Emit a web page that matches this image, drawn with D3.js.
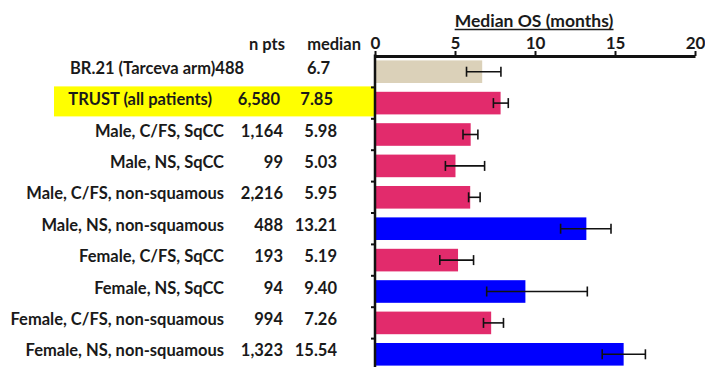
<!DOCTYPE html>
<html>
<head>
<meta charset="utf-8">
<script src="https://cdn.jsdelivr.net/npm/d3@7"></script>
<style>
  html, body { margin: 0; padding: 0; background: #fff; }
  svg { display: block; }
  text { font-family: Lato, "Open Sans", sans-serif; font-weight: bold; fill: #1a1a1a; }
</style>
</head>
<body>
<div id="chart"></div>
<script>
// ---- data ----
const categories = [
  "BR.21 (Tarceva arm)",
  "TRUST (all patients)",
  "Male, C/FS, SqCC",
  "Male, NS, SqCC",
  "Male, C/FS, non-squamous",
  "Male, NS, non-squamous",
  "Female, C/FS, SqCC",
  "Female, NS, SqCC",
  "Female, C/FS, non-squamous",
  "Female, NS, non-squamous"
];
const nPts = ["488", "6,580", "1,164", "99", "2,216", "488", "193", "94", "994", "1,323"];
const medianLabels = ["6.7", "7.85", "5.98", "5.03", "5.95", "13.21", "5.19", "9.40", "7.26", "15.54"];
const medianOS = [6.7, 7.85, 5.98, 5.03, 5.95, 13.21, 5.19, 9.40, 7.26, 15.54];
const ciLow  = [5.72, 7.4, 5.5, 4.4, 5.85, 11.6, 4.05, 6.98, 6.78, 14.2];
const ciHigh = [7.87, 8.33, 6.43, 6.85, 6.57, 14.75, 6.16, 13.27, 8.03, 16.9];
const group = ["reference", "other", "other", "other", "other", "longer", "other", "longer", "other", "longer"];
const xTicks = [0, 5, 10, 15, 20];
const title = "Median OS (months)";
const headers = ["n pts", "median"];

// ---- chart ----
const W = 705, H = 367;
const colors = { reference: "#dbd1b9", other: "#e22b6c", longer: "#0000ff" };

const svg = d3.select("#chart").append("svg").attr("width", W).attr("height", H);

const x = d3.scaleLinear().domain([0, 20]).range([375, 695]);
const y = d3.scaleBand().domain(categories).range([56, 370]).paddingInner(0.28).paddingOuter(0.14);
const yb = d3.scaleBand().domain(categories).range([56, 370]);

const rows = categories.map((c, i) => ({
  cat: c, n: nPts[i], medLabel: medianLabels[i], v: medianOS[i],
  lo: ciLow[i], hi: ciHigh[i], g: group[i], i
}));

// highlight
const hiRow = rows[1];
svg.append("rect")
  .attr("x", 54).attr("y", yb(hiRow.cat) - 1)
  .attr("width", x(0) - 54).attr("height", 30)
  .attr("fill", "#ffff00");

// bars
svg.selectAll("rect.bar").data(rows).join("rect")
  .attr("class", "bar")
  .attr("x", x(0) + 1)
  .attr("y", d => y(d.cat))
  .attr("width", d => x(d.v) - x(0) - 1)
  .attr("height", y.bandwidth())
  .attr("fill", d => colors[d.g]);

// error bars
const eb = svg.append("g").attr("stroke", "#111").attr("stroke-width", 1.6).attr("fill", "none");
rows.forEach(d => {
  const cy = y(d.cat) + y.bandwidth() / 2;
  eb.append("line").attr("x1", x(d.lo)).attr("x2", x(d.hi)).attr("y1", cy).attr("y2", cy);
  eb.append("line").attr("x1", x(d.lo)).attr("x2", x(d.lo)).attr("y1", cy - 5).attr("y2", cy + 5);
  eb.append("line").attr("x1", x(d.hi)).attr("x2", x(d.hi)).attr("y1", cy - 5).attr("y2", cy + 5);
});

// top axis
const xAxis = d3.axisTop(x).tickValues(xTicks).tickSize(5).tickSizeOuter(0).tickPadding(2);
const gx = svg.append("g").attr("transform", "translate(0,56)").call(xAxis);
gx.select(".domain").attr("stroke", "#111").attr("stroke-width", 3);
gx.selectAll(".tick line").attr("stroke", "#111").attr("stroke-width", 2);
gx.selectAll(".tick text").style("font-size", "17px").attr("fill", "#1a1a1a");

// left axis
const gy = svg.append("g").attr("transform", `translate(${x(0)},0)`);
gy.append("line").attr("x1", 0).attr("x2", 0).attr("y1", 54.5).attr("y2", H)
  .attr("stroke", "#111").attr("stroke-width", 2.5);
gy.selectAll("line.t").data(categories.slice(1)).join("line")
  .attr("class", "t")
  .attr("x1", -4).attr("x2", 0)
  .attr("y1", d => yb(d)).attr("y2", d => yb(d))
  .attr("stroke", "#111").attr("stroke-width", 2);

// title
const t = svg.append("text").attr("x", 534).attr("y", 27).attr("text-anchor", "middle")
  .style("font-size", "17.5px").text(title);
const tb = t.node().getBBox();
svg.append("line").attr("x1", tb.x).attr("x2", tb.x + tb.width).attr("y1", 29.5).attr("y2", 29.5)
  .attr("stroke", "#1a1a1a").attr("stroke-width", 1.4);

// headers
svg.append("text").attr("x", 285).attr("y", 50).attr("text-anchor", "end").style("font-size", "16.5px").text(headers[0]);
svg.append("text").attr("x", 361).attr("y", 50).attr("text-anchor", "end").style("font-size", "16.5px").text(headers[1]);

// row text
const fs = "16.5px";
const ty = d => yb(d.cat) + yb.bandwidth() / 2 + 2;
const g = svg.append("g").style("font-size", fs);
rows.forEach(d => {
  const yy = ty(d);
  if (d.i === 0) {
    const lab = g.append("text").attr("x", 70).attr("y", yy).text(d.cat);
    const w = lab.node().getComputedTextLength();
    g.append("text").attr("x", 70 + w).attr("y", yy).text(d.n);
    g.append("text").attr("x", 307).attr("y", yy).text(d.medLabel);
  } else if (d.i === 1) {
    g.append("text").attr("x", 212).attr("y", yy).attr("text-anchor", "end").text(d.cat);
    g.append("text").attr("x", 280).attr("y", yy).attr("text-anchor", "end").text(d.n);
    g.append("text").attr("x", 333).attr("y", yy).attr("text-anchor", "end").text(d.medLabel);
  } else {
    g.append("text").attr("x", 224).attr("y", yy).attr("text-anchor", "end").text(d.cat);
    g.append("text").attr("x", 283).attr("y", yy).attr("text-anchor", "end").text(d.n);
    g.append("text").attr("x", 337).attr("y", yy).attr("text-anchor", "end").text(d.medLabel);
  }
});
</script>
</body>
</html>
